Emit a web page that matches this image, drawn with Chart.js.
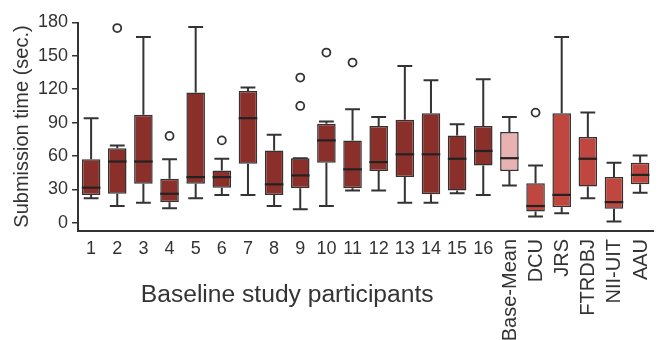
<!DOCTYPE html>
<html>
<head>
<meta charset="utf-8">
<script src="https://cdn.jsdelivr.net/npm/chart.js@4/dist/chart.umd.min.js"></script>
<style>
  html, body { margin: 0; padding: 0; background: #fff; }
  #wrap { width: 659px; height: 340px; position: relative; }
</style>
</head>
<body>
<div id="wrap"><canvas id="chart"></canvas></div>
<script>
// box plot data (seconds)
const labels = ['1', '2', '3', '4', '5', '6', '7', '8', '9', '10', '11', '12', '13', '14', '15', '16',
  'Base-Mean', 'DCU', 'JRS', 'FTRDBJ', 'NII-UIT', 'AAU']
const whiskerLow = [22, 15, 18, 13, 22, 25, 25, 15, 12, 15, 29, 29, 18, 18, 26.5, 25, 33.5, 5.5, 8.5, 22, 1, 27]
const q1 = [25, 26, 35, 18.5, 35, 31.5, 53, 25, 31, 54, 31, 46.5, 41, 25.5, 29, 51.5, 46.5, 10, 14, 32.5, 12.5, 34.5]
const medians = [31.5, 55, 55, 26, 41, 41, 94, 34.5, 42.5, 74, 48, 54.5, 61.5, 61.5, 57.5, 64.5, 58, 15, 25, 57.5, 18.5, 43]
const q3 = [57, 67, 97, 39.5, 117, 47, 118.5, 65, 58, 89, 74, 87, 92.5, 98.5, 78.5, 87, 81.5, 35.5, 98.5, 77, 41, 54]
const whiskerHigh = [94, 69.5, 167, 57, 176, 57.5, 121.5, 79, 58, 91, 102, 95, 141, 128, 88.5, 129, 95, 51.5, 167, 99, 54, 60.5]
const outliers = [
  { x: '2', y: 175 }, { x: '4', y: 78 }, { x: '6', y: 74 }, { x: '9', y: 130.5 },
  { x: '9', y: 105 }, { x: '10', y: 153 }, { x: '11', y: 144 }, { x: 'DCU', y: 99 },
]
const yTicks = [0, 30, 60, 90, 120, 150, 180]

const INK = '#333333'
const FONT = '"Liberation Sans", Arial, sans-serif'

// participants dark, the mean pale, the systems brighter
function boxColor(i) {
  const label = labels[i]
  if (/^\d+$/.test(label)) return '#8b2f2b'
  if (label === 'Base-Mean') return '#e9b2b2'
  return '#c0473f'
}

// whiskers, caps and medians on top of the floating bars
const boxPlotPlugin = {
  id: 'boxPlot',
  afterDatasetsDraw(chart) {
    const { ctx, scales: { x, y } } = chart
    const bars = chart.getDatasetMeta(0).data
    ctx.save()
    labels.forEach((_, i) => {
      const cx = x.getPixelForValue(i)
      const w = bars[i].width
      const cap = w * 0.4
      ctx.strokeStyle = INK
      ctx.lineWidth = 2
      ctx.beginPath()
      ctx.moveTo(cx, y.getPixelForValue(q3[i]))
      ctx.lineTo(cx, y.getPixelForValue(whiskerHigh[i]))
      ctx.moveTo(cx - cap, y.getPixelForValue(whiskerHigh[i]))
      ctx.lineTo(cx + cap, y.getPixelForValue(whiskerHigh[i]))
      ctx.moveTo(cx, y.getPixelForValue(q1[i]))
      ctx.lineTo(cx, y.getPixelForValue(whiskerLow[i]))
      ctx.moveTo(cx - cap, y.getPixelForValue(whiskerLow[i]))
      ctx.lineTo(cx + cap, y.getPixelForValue(whiskerLow[i]))
      ctx.stroke()
      ctx.lineWidth = 2.2
      ctx.strokeStyle = '#222'
      ctx.beginPath()
      ctx.moveTo(cx - w / 2, y.getPixelForValue(medians[i]))
      ctx.lineTo(cx + w / 2, y.getPixelForValue(medians[i]))
      ctx.stroke()
    })
    ctx.restore()
  },
  // category labels: numbers flat, names turned upright
  afterDraw(chart) {
    const { ctx, scales: { x } } = chart
    ctx.save()
    ctx.fillStyle = INK
    labels.forEach((label, i) => {
      const cx = x.getPixelForValue(i)
      if (/^\d+$/.test(label)) {
        ctx.font = '18px ' + FONT
        ctx.textAlign = 'center'
        ctx.textBaseline = 'middle'
        ctx.fillText(label, cx, 249)
      } else {
        ctx.font = '20px ' + FONT
        ctx.save()
        ctx.translate(cx + 1, 239)
        ctx.rotate(-Math.PI / 2)
        ctx.textAlign = 'right'
        ctx.textBaseline = 'middle'
        ctx.fillText(label, 0, 0)
        ctx.restore()
      }
    })
    const mid = (x.getPixelForValue(0) + x.getPixelForValue(15)) / 2
    ctx.font = '23px ' + FONT
    ctx.textAlign = 'center'
    ctx.textBaseline = 'alphabetic'
    ctx.translate(mid, 302)
    ctx.scale(1.07, 1)
    ctx.fillText('Baseline study participants', 0, 0)
    ctx.restore()
  },
}

new Chart(document.getElementById('chart'), {
  data: {
    labels: labels,
    datasets: [
      {
        type: 'bar',
        data: q1.map((v, i) => [v, q3[i]]),
        backgroundColor: labels.map((_, i) => boxColor(i)),
        borderColor: INK,
        borderWidth: 1.5,
        borderSkipped: false,
        barPercentage: 0.71,
        categoryPercentage: 1,
      },
      {
        type: 'line',
        data: outliers,
        showLine: false,
        pointStyle: 'circle',
        pointRadius: 4,
        pointBackgroundColor: '#fff',
        pointBorderColor: INK,
        pointBorderWidth: 1.8,
      },
    ],
  },
  options: {
    responsive: true,
    maintainAspectRatio: false,
    animation: false,
    layout: { padding: { left: 10, top: 22.5, right: 5, bottom: 101.5 } },
    plugins: { legend: { display: false }, tooltip: { enabled: false } },
    scales: {
      x: {
        type: 'category',
        offset: true,
        grid: { display: false },
        ticks: { display: false },
        border: { display: true, color: INK, width: 2 },
      },
      y: {
        min: -7,
        max: 180,
        afterBuildTicks(scale) {
          scale.ticks = yTicks.map(v => ({ value: v }))
        },
        ticks: { color: INK, font: { size: 18, family: FONT }, padding: 4 },
        grid: { drawOnChartArea: false, drawTicks: true, tickLength: 6, color: INK, lineWidth: 1.5 },
        border: { display: true, color: INK, width: 2 },
        title: {
          display: true,
          text: 'Submission time (sec.)',
          color: INK,
          font: { size: 20, family: FONT },
          padding: { top: 0, bottom: 0 },
        },
      },
    },
  },
  plugins: [boxPlotPlugin],
})
</script>
</body>
</html>
